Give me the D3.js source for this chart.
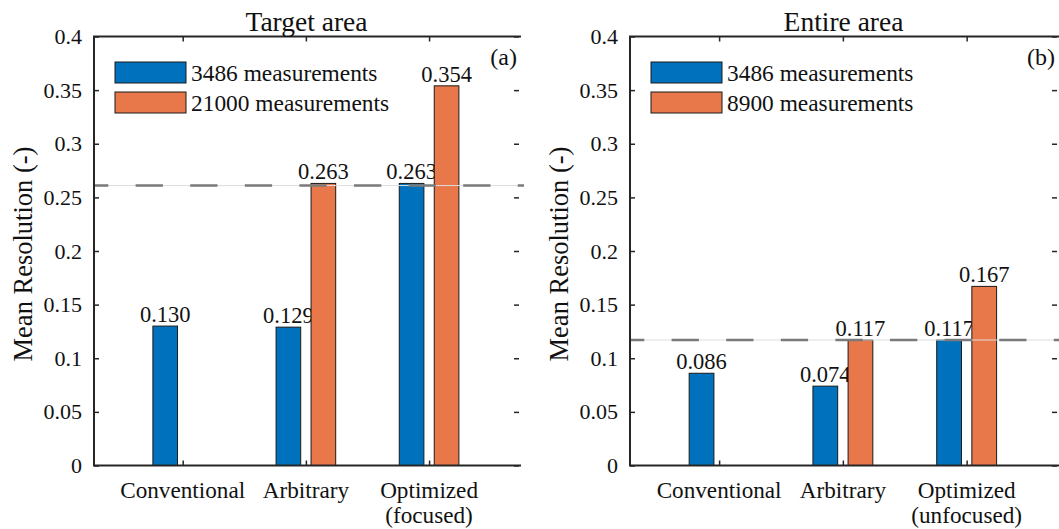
<!DOCTYPE html>
<html>
<head>
<meta charset="utf-8">
<script src="https://cdn.jsdelivr.net/npm/d3@7"></script>
<style>
  html, body { margin: 0; padding: 0; background: #fff; }
  svg { display: block; }
  svg text { font-family: "Liberation Serif", "Times New Roman", serif; fill: #111; }
</style>
</head>
<body>
<svg id="chart" width="1059" height="529"></svg>
<script>
// Category labels (line breaks split with "\n")
const categoriesA = ["Conventional", "Arbitrary", "Optimized\n(focused)"];
const categoriesB = ["Conventional", "Arbitrary", "Optimized\n(unfocused)"];

// Panel (a): target area
const targetSmall = [0.130, 0.129, 0.263];   // 3486 measurements
const targetLarge = [null, 0.263, 0.354];    // 21000 measurements
const targetRef = 0.261;

// Panel (b): entire area
const entireSmall = [0.086, 0.074, 0.117];   // 3486 measurements
const entireLarge = [null, 0.117, 0.167];    // 8900 measurements
const entireRef = 0.117;

const yTicks = [0, 0.05, 0.1, 0.15, 0.2, 0.25, 0.3, 0.35, 0.4];
const yTickLabels = ["0", "0.05", "0.1", "0.15", "0.2", "0.25", "0.3", "0.35", "0.4"];

const panels = [
  { title: "Target area", tag: "(a)", cats: categoriesA, small: targetSmall, large: targetLarge,
    ref: targetRef, legend: ["3486 measurements", "21000 measurements"], left: 94, width: 425 },
  { title: "Entire area", tag: "(b)", cats: categoriesB, small: entireSmall, large: entireLarge,
    ref: entireRef, legend: ["3486 measurements", "8900 measurements"], left: 630, width: 427 }
];

const BLUE = "#0072BD";
const ORANGE = "#E8784A";
const AXIS = "#262626";
const TOP = 36.5, BOTTOM = 465.5;
const fmt = d3.format(".3f");
const FONT = "Liberation Serif, Times New Roman, serif";

const svg = d3.select("#chart");

panels.forEach(p => {
  const W = p.width;
  const g = svg.append("g").attr("transform", `translate(${p.left},0)`);
  const x = d3.scaleLinear().domain([0.28, 3.73]).range([0, W]);
  const y = d3.scaleLinear().domain([0, 0.4]).range([BOTTOM, TOP]);
  const idx = p.cats.map((_, i) => i + 1);
  const barW = x(0.2) - x(0);
  const off = 0.142;

  // Bars with value labels
  const series = [
    { vals: p.small, color: BLUE, shift: -off },
    { vals: p.large, color: ORANGE, shift: off }
  ];
  series.forEach(s => {
    const data = s.vals.map((v, i) => ({ v, i })).filter(d => d.v != null);
    g.selectAll(null).data(data).enter().append("rect")
      .attr("x", d => x(d.i + 1 + s.shift) - barW / 2)
      .attr("y", d => y(d.v))
      .attr("width", barW)
      .attr("height", d => y(0) - y(d.v))
      .attr("fill", s.color)
      .attr("stroke", "#1a1a1a")
      .attr("stroke-width", 1);
    g.selectAll(null).data(data).enter().append("text")
      .attr("x", d => x(d.i + 1 + s.shift))
      .attr("y", d => y(d.v) - 4)
      .attr("text-anchor", "middle")
      .attr("font-size", 22.5)
      .text(d => fmt(d.v));
  });

  // Reference line: faint solid line plus grey dashes
  g.append("line")
    .attr("x1", 0).attr("x2", W + 5)
    .attr("y1", y(p.ref)).attr("y2", y(p.ref))
    .attr("stroke", "#dddddd").attr("stroke-width", 1);
  g.append("line")
    .attr("x1", 0).attr("x2", W + 5)
    .attr("y1", y(p.ref)).attr("y2", y(p.ref))
    .attr("stroke", "#7a7a7a").attr("stroke-width", 2.5)
    .attr("stroke-dasharray", "27.3 27.3")
    .attr("stroke-dashoffset", 13);

  // Axes with inward ticks
  const yAxis = d3.axisLeft(y).tickValues(yTicks)
    .tickFormat((d, i) => yTickLabels[i]).tickSizeInner(-5).tickSizeOuter(0).tickPadding(12);
  const ya = g.append("g").call(yAxis);
  ya.attr("font-family", FONT);
  ya.select(".domain").remove();
  ya.selectAll("text").attr("font-size", 22).attr("fill", "#111");
  ya.selectAll("line").attr("stroke", AXIS).attr("stroke-width", 1.5);

  const yRight = d3.axisRight(y).tickValues(yTicks).tickFormat("").tickSizeInner(-5).tickSizeOuter(0);
  const yr = g.append("g").attr("transform", `translate(${W},0)`).call(yRight);
  yr.select(".domain").remove();
  yr.selectAll("line").attr("stroke", AXIS).attr("stroke-width", 1.5);

  const xAxis = d3.axisBottom(x).tickValues(idx).tickFormat("").tickSizeInner(-5).tickSizeOuter(0);
  const xa = g.append("g").attr("transform", `translate(0,${BOTTOM})`).call(xAxis);
  xa.select(".domain").remove();
  xa.selectAll("line").attr("stroke", AXIS).attr("stroke-width", 1.5);

  const xTop = d3.axisTop(x).tickValues(idx).tickFormat("").tickSizeInner(-5).tickSizeOuter(0);
  const xt = g.append("g").attr("transform", `translate(0,${TOP})`).call(xTop);
  xt.select(".domain").remove();
  xt.selectAll("line").attr("stroke", AXIS).attr("stroke-width", 1.5);

  // Category labels
  idx.forEach((c, i) => {
    const lines = p.cats[i].split("\n");
    const t = g.append("text")
      .attr("x", x(c)).attr("y", 498)
      .attr("text-anchor", "middle").attr("font-size", 23.2);
    lines.forEach((ln, k) => {
      t.append("tspan").attr("x", x(c)).attr("dy", k === 0 ? 0 : 25).text(ln);
    });
  });

  // Box: left, bottom, top
  g.append("path")
    .attr("d", `M${W + 2},${TOP}H0V${BOTTOM}H${W + 2}`)
    .attr("fill", "none").attr("stroke", AXIS).attr("stroke-width", 2);

  // Title and panel tag
  g.append("text").attr("x", W / 2).attr("y", 31)
    .attr("text-anchor", "middle").attr("font-size", 27.5).text(p.title);
  g.append("text").attr("x", W - 2).attr("y", 65)
    .attr("text-anchor", "end").attr("font-size", 24).text(p.tag);

  // Y axis label
  g.append("text")
    .attr("transform", `translate(-62,254) rotate(-90)`)
    .attr("text-anchor", "middle").attr("font-size", 26.5)
    .text("Mean Resolution (-)");

  // Legend
  const leg = [{ c: BLUE, t: p.legend[0] }, { c: ORANGE, t: p.legend[1] }];
  leg.forEach((d, i) => {
    const ly = 62 + i * 30;
    g.append("rect").attr("x", 21).attr("y", ly).attr("width", 71).attr("height", 21)
      .attr("fill", d.c).attr("stroke", "#1a1a1a").attr("stroke-width", 1);
    g.append("text").attr("x", 97).attr("y", ly + 19)
      .attr("font-size", 23.4).text(d.t);
  });
});
</script>
</body>
</html>
